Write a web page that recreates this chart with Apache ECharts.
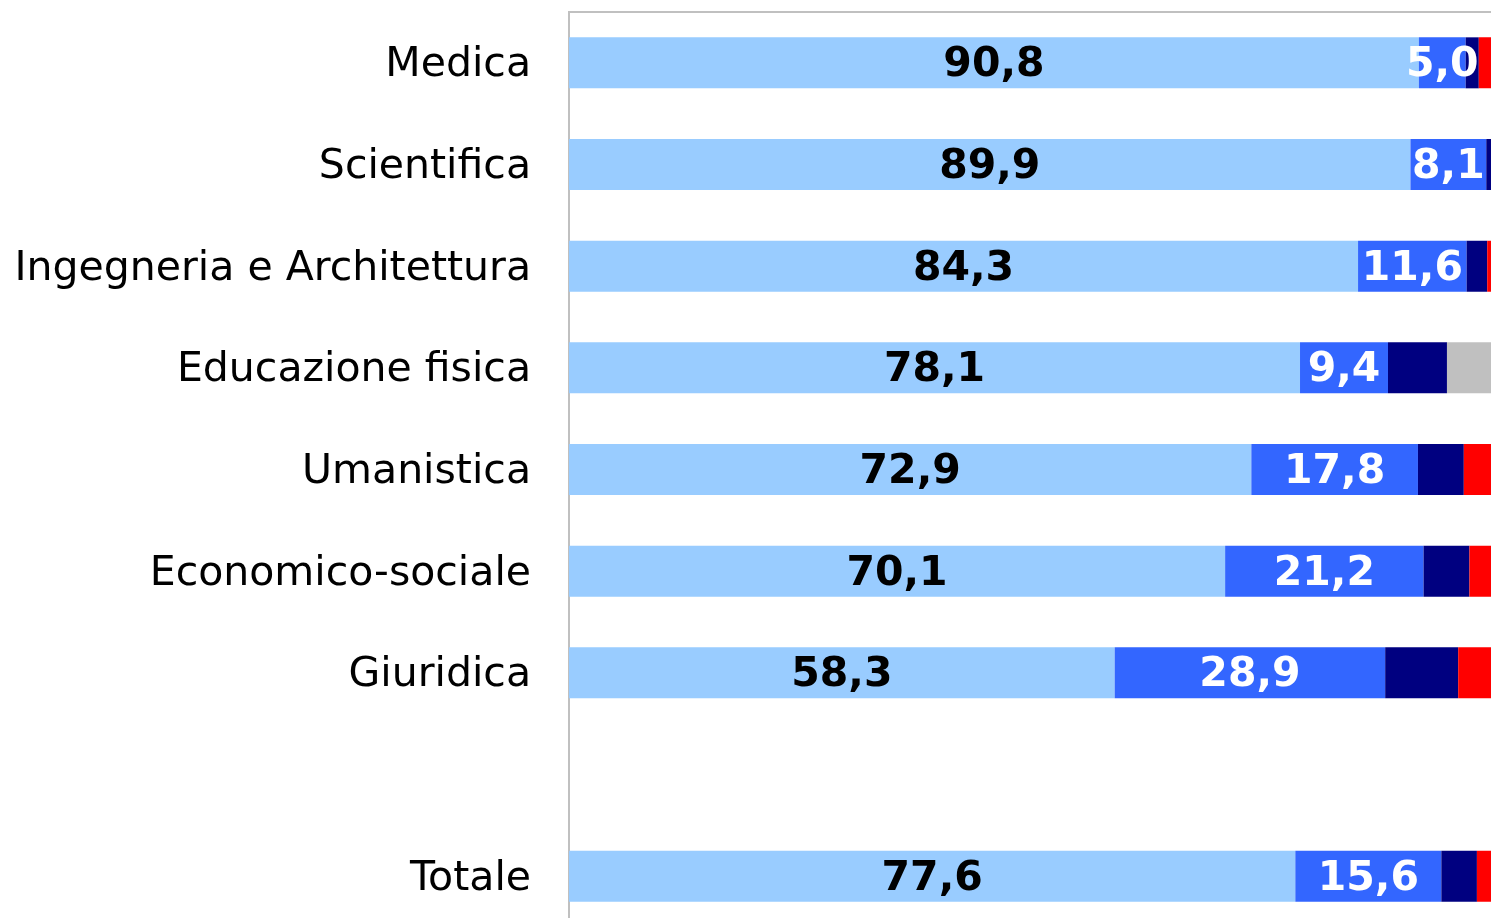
<!DOCTYPE html>
<html>
<head>
<meta charset="utf-8">
<script src="https://cdn.jsdelivr.net/npm/echarts@6/dist/echarts.min.js"></script>
<style>
html, body { margin: 0; padding: 0; background: #fff; overflow: hidden; }
/* il grafico originale è tagliato a destra e in basso */
#main { width: 1505px; height: 927px; }
</style>
</head>
<body>
<div id="main"></div>
<script>
var categories = ['Medica', 'Scientifica', 'Ingegneria e Architettura', 'Educazione fisica',
    'Umanistica', 'Economico-sociale', 'Giuridica', '', 'Totale'];

// quote per gruppo (%), la categoria vuota fa da separatore
var serie1 = [90.8, 89.9, 84.3, 78.1, 72.9, 70.1, 58.3, null, 77.6];
var serie2 = [5.0, 8.1, 11.6, 9.4, 17.8, 21.2, 28.9, null, 15.6];
var serie3 = [1.4, 2.0, 2.2, 6.3, 4.9, 4.9, 7.8, null, 3.8];
var serie4 = [2.8, 0, 1.9, 0, 4.4, 3.8, 5.0, null, 3.0];
var serie5 = [0, 0, 0, 6.2, 0, 0, 0, null, 0];

var dom = document.getElementById('main');
var myChart = echarts.init(dom);

function fmt(p) {
    return p.value == null ? '' : p.value.toFixed(1).replace('.', ',');
}

var labelFont = {
    fontFamily: 'DejaVu Sans',
    fontWeight: 'bold',
    fontSize: 41,
    offset: [0, 3]
};

option = {
    animation: false,
    grid: {
        left: 569,
        right: 0,
        top: 12,
        bottom: 0,
        show: true,
        borderColor: '#c0c0c0',
        borderWidth: 2
    },
    xAxis: {
        type: 'value',
        min: 0,
        max: 100,
        show: false
    },
    yAxis: {
        type: 'category',
        data: categories,
        inverse: true,
        axisLine: { show: false },
        axisTick: { show: false },
        axisLabel: {
            margin: 38,
            formatter: function (v) { return v ? '{c|' + v + '}' : ''; },
            rich: {
                c: {
                    color: '#000',
                    fontFamily: 'DejaVu Sans',
                    fontSize: 41,
                    padding: [6, 0, 0, 0]
                }
            }
        }
    },
    series: [{
        type: 'bar',
        stack: 'tot',
        barWidth: 51,
        data: serie1,
        itemStyle: { color: '#99ccff' },
        label: Object.assign({ show: true, position: 'inside', color: '#000', formatter: fmt }, labelFont)
    }, {
        type: 'bar',
        stack: 'tot',
        data: serie2,
        itemStyle: { color: '#3366ff' },
        label: Object.assign({ show: true, position: 'inside', color: '#fff', formatter: fmt }, labelFont)
    }, {
        type: 'bar',
        stack: 'tot',
        data: serie3,
        itemStyle: { color: '#000080' }
    }, {
        type: 'bar',
        stack: 'tot',
        data: serie4,
        itemStyle: { color: '#ff0000' }
    }, {
        type: 'bar',
        stack: 'tot',
        data: serie5,
        itemStyle: { color: '#c0c0c0' }
    }]
};

if (option && typeof option === 'object') {
    myChart.setOption(option, true);
}
</script>
</body>
</html>
